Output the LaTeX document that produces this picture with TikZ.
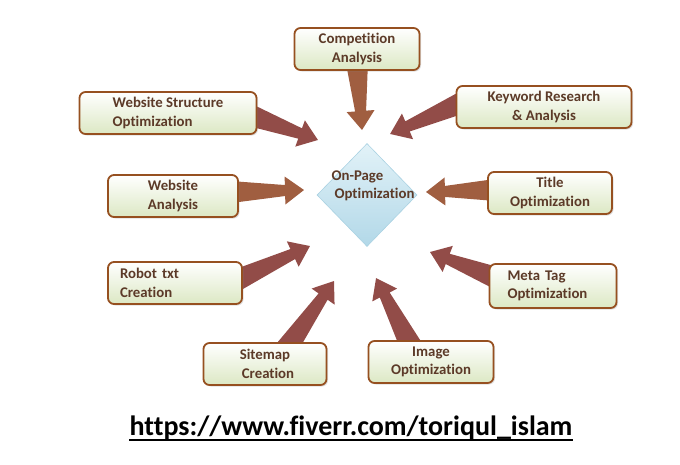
\documentclass[tikz,border=0pt]{standalone}
\usepackage{fontspec}
\setmainfont{Carlito}[Ligatures=NoCommon]
\usepackage{xcolor}
\usepackage{tikz}
\usetikzlibrary{shapes.geometric, calc, shadows}

\definecolor{boxbrd}{RGB}{150,80,32}
\definecolor{boxgreen}{RGB}{220,232,196}
\definecolor{txtbrown}{RGB}{92,58,40}
\definecolor{orangearr}{RGB}{160,94,64}
\definecolor{redarr}{RGB}{146,76,72}
\definecolor{diabrd}{RGB}{170,210,226}
\definecolor{diatop}{RGB}{226,242,248}
\definecolor{diabot}{RGB}{178,216,232}

\pgfdeclarelayer{background}
\pgfsetlayers{background,main}

% tapered block arrow from tail to tip
\newcommand{\fatarrow}[3][redarr]{%
  \fill[#1] let \p1=(#2), \p2=(#3), \n1={atan2(\y2-\y1,\x2-\x1)}, \n2={veclen(\x2-\x1,\y2-\y1)} in
    [shift={(\p1)}, rotate=\n1] (0,-11) -- ({\n2-19},-5.5) -- ({\n2-19},-14) -- (\n2,0)
    -- ({\n2-19},14) -- ({\n2-19},5.5) -- (0,11) -- cycle;}

\begin{document}
\begin{tikzpicture}[
    x=1pt, y=1pt,
    task/.style={draw=boxbrd, line width=1.8pt, rounded corners=6pt, top color=white, bottom color=boxgreen,
      minimum height=42pt, align=center, text=txtbrown, font=\bfseries\fontsize{14.8}{18.5}\selectfont,
      drop shadow={shadow xshift=1.5pt, shadow yshift=-1.5pt, opacity=0.25}},
    centre/.style={diamond, draw=diabrd, line width=0.6pt, top color=diatop, bottom color=diabot,
      minimum width=100pt, minimum height=103pt, inner sep=0pt}
]
\useasboundingbox (0,0) rectangle (680,-464);

\node[centre] (onpage) at (367,-195) {};
\node[text=txtbrown, font=\bfseries\fontsize{14.8}{18.5}\selectfont, align=left] (onpagetxt) at (373,-186) {On-Page\\\hspace*{3pt}Optimization};

\node[task, minimum width=125pt] (comp) at (357,-49) {Competition\\Analysis};
\node[task, minimum width=175pt] (kw) at (544,-107) {Keyword Research\\\& Analysis};
\node[task, minimum width=177pt, align=left] (wso) at (168,-113) {Website Structure\\Optimization};
\node[task, minimum width=130pt, align=left] (wa) at (173,-196) {Website\\Analysis};
\node[task, minimum width=124pt] (title) at (550,-193) {Title\\Optimization};
\node[task, text width=110pt, inner xsep=12pt, align=left] (robot) at (175,-283) {Robot txt\\Creation};
\node[task, text width=91pt, inner xsep=18pt, minimum height=44pt, align=left] (meta) at (553,-286) {Meta Tag\\Optimization};
\node[task, minimum width=123pt] (sitemap) at (265,-364) {Sitemap\\\hspace*{6pt}Creation};
\node[task, minimum width=125pt] (image) at (431,-362) {Image\\Optimization};

\coordinate (tipcomp) at (362,-130);
\coordinate (tipkw) at (390,-134);
\coordinate (tipwso) at (318,-140);
\coordinate (tipwa) at (304,-190);
\coordinate (tiptitle) at (426,-192);
\coordinate (tiprobot) at (310,-246);
\coordinate (tipmeta) at (430,-252);
\coordinate (tipsitemap) at (334,-281);
\coordinate (tipimage) at (376,-278);

\begin{pgfonlayer}{background}
\fatarrow[orangearr]{$(comp.south)+(0,8)$}{tipcomp}
\fatarrow{$(kw.west)+(8,5)$}{tipkw}
\fatarrow{$(wso.east)+(-8,-2)$}{tipwso}
\fatarrow[orangearr]{$(wa.east)+(-8,4)$}{tipwa}
\fatarrow[orangearr]{$(title.west)+(8,3)$}{tiptitle}
\fatarrow{$(robot.east)+(-8,2)$}{tiprobot}
\fatarrow{$(meta.west)+(8,8)$}{tipmeta}
\fatarrow{$(sitemap.north)+(22,-6)$}{tipsitemap}
\fatarrow{$(image.north)+(-20,-6)$}{tipimage}
\end{pgfonlayer}

\node[inner sep=0pt, font=\bfseries\fontsize{28}{32}\selectfont] (url) at (351,-428) {https://www.fiverr.com/toriqul\_islam};
\draw[line width=1.8pt] ($(url.base west)+(0,-4)$) -- ($(url.base east)+(0,-4)$);
\end{tikzpicture}
\end{document}
